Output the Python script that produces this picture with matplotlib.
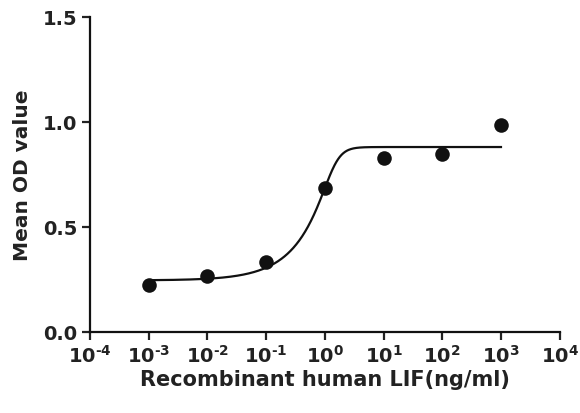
import numpy as np
import matplotlib
matplotlib.use("Agg")
import matplotlib.pyplot as plt
from matplotlib.ticker import FixedLocator, NullLocator

# measured points
conc = [1e-3, 1e-2, 1e-1, 1e0, 1e1, 1e2, 1e3]
od = [0.222, 0.267, 0.333, 0.686, 0.826, 0.845, 0.983]

# fitted 5PL curve parameters
bottom = 0.245
top = 0.88
log_c = 0.16
hill = 4.0
asym = 0.22

xtick_exp = [-4, -3, -2, -1, 0, 1, 2, 3, 4]
yticks = [0.0, 0.5, 1.0, 1.5]

plt.rcParams["font.family"] = ["DejaVu Sans"]
plt.rcParams["font.weight"] = "bold"
plt.rcParams["mathtext.fontset"] = "custom"
plt.rcParams["mathtext.rm"] = "DejaVu Sans:bold"
plt.rcParams["mathtext.bf"] = "DejaVu Sans:bold"
plt.rcParams["mathtext.it"] = "DejaVu Sans:bold"

fig = plt.figure(figsize=(5.8, 4.14), dpi=100)
ax = fig.add_axes([0.155, 0.196, 0.81, 0.761])

u = np.linspace(np.log10(conc[0]), np.log10(conc[-1]), 600)
fit = bottom + (top - bottom) / (1 + 10 ** (hill * (log_c - u))) ** asym
ax.plot(10 ** u, fit, color="#111111", lw=1.6, zorder=2)
ax.scatter(conc, od, s=110, color="#111111", zorder=3, linewidths=0)

ax.set_xscale("log")
ax.set_xlim(1e-4, 1e4)
ax.set_ylim(0, 1.5)
ax.xaxis.set_major_locator(FixedLocator([10.0 ** e for e in xtick_exp]))
ax.xaxis.set_minor_locator(NullLocator())
ax.set_xticklabels([r"$10^{\text{%d}}$" % e for e in xtick_exp])
ax.set_yticks(yticks)
ax.set_yticklabels(["%.1f" % v for v in yticks])

for s in ["top", "right"]:
    ax.spines[s].set_visible(False)
for s in ["left", "bottom"]:
    ax.spines[s].set_linewidth(1.6)
    ax.spines[s].set_color("#111111")
ax.tick_params(axis="both", direction="out", length=6, width=1.6,
               labelsize=14, colors="#222222", pad=3)

ax.set_xlabel("Recombinant human LIF(ng/ml)", fontsize=15, fontweight="bold",
              color="#222222", labelpad=2)
ax.set_ylabel("Mean OD value", fontsize=14.5, fontweight="bold",
              color="#222222", labelpad=8)

fig.savefig("out.png", dpi=100)
